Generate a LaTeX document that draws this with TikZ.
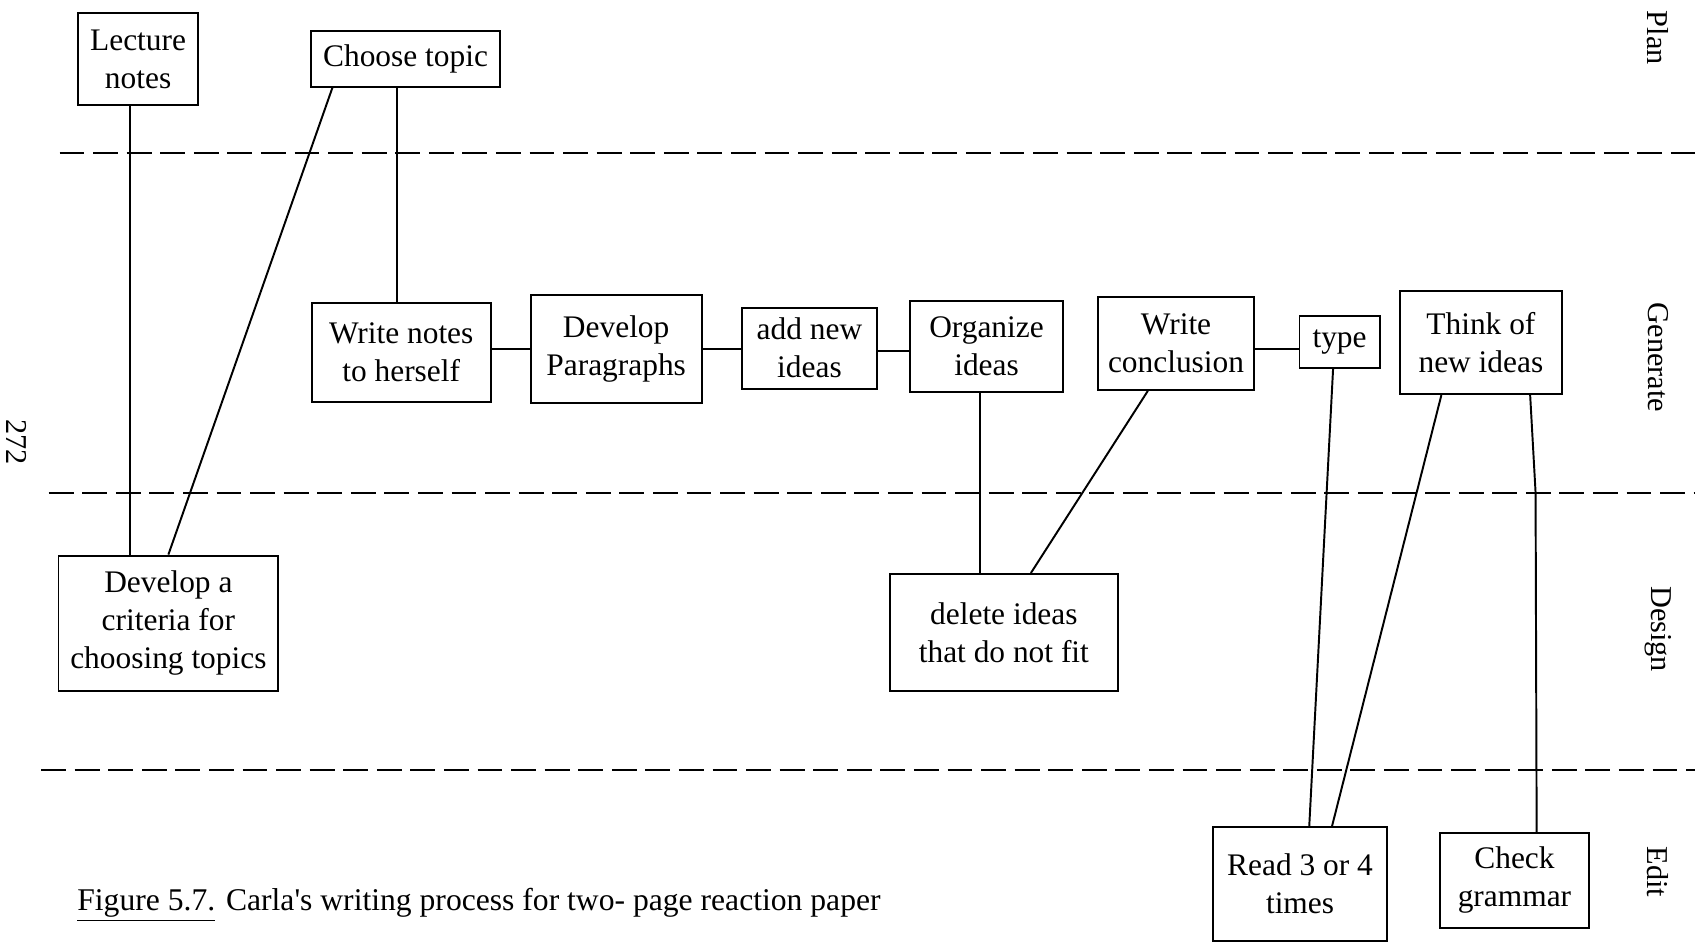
\documentclass[tikz,border=0pt]{standalone}
\usepackage{fontspec}
\setmainfont{Liberation Serif}
\usetikzlibrary{calc}
\begin{document}
\begin{tikzpicture}[x=0.5pt,y=-0.5pt,
  box/.style={draw, line width=0.9pt, rectangle, align=center, inner sep=2pt,
    font=\fontsize{14.5}{17.5}\selectfont},
  link/.style={line width=0.9pt},
  phase/.style={draw, line width=0.9pt, dash pattern=on 11.5pt off 4pt},
  lanelabel/.style={rotate=-90, font=\fontsize{14}{16}\selectfont}]
\useasboundingbox (0,0) rectangle (1568,870);

% phase boundaries
\coordinate (d1l) at (55,141);  \coordinate (d1r) at (1565,141);
\coordinate (d2l) at (45,455);  \coordinate (d2r) at (1565,455);
\coordinate (d3l) at (38,711);  \coordinate (d3r) at (1565,711);
\draw[phase] (d1l) -- (d1r);
\draw[phase] (d2l) -- (d2r);
\draw[phase] (d3l) -- (d3r);

% phase names
\node[lanelabel] (plan) at (1531,35) {Plan};
\node[lanelabel] (gen)  at (1531,330) {Generate};
\node[lanelabel] (des)  at (1531,581) {Design};
\node[lanelabel] (edit) at (1531,805) {Edit};

% page number
\node[rotate=-90, inner sep=0pt, font=\fontsize{14}{16}\selectfont] (pageno) at (15,408) {272};

% activities
\node[box, minimum width=55.5pt, minimum height=42.5pt] (lect) at (127.5,54.5) {Lecture\\notes};
\node[box, minimum width=87.5pt, minimum height=25.5pt] (choose) at (374.5,54.5) {Choose topic};
\node[box, minimum width=82.5pt, minimum height=45.5pt] (wnotes) at (370.5,325.5) {Write notes\\to herself};
\node[box, minimum width=79pt, minimum height=50pt] (devpar) at (569,322) {Develop\\Paragraphs};
\node[box, minimum width=62.5pt, minimum height=37.5pt] (addnew) at (747.5,321.5) {add new\\ideas};
\node[box, minimum width=71pt, minimum height=42pt] (organize) at (911,320) {Organize\\ideas};
\node[box, minimum width=72pt, minimum height=43pt] (wconc) at (1086,317) {Write\\conclusion};
\node[box, minimum width=37pt, minimum height=24pt] (type) at (1237,316) {type};
\node[box, minimum width=74.5pt, minimum height=47.5pt] (think) at (1367.5,316.5) {Think of\\new ideas};
\node[box, minimum width=101.5pt, minimum height=62.5pt] (crit) at (155.5,575.5) {Develop a\\criteria for\\choosing topics};
\node[box, minimum width=105pt, minimum height=54pt] (delete) at (927,584) {delete ideas\\that do not fit};
\node[box, minimum width=80.5pt, minimum height=52.5pt] (read) at (1200.5,816.5) {Read 3 or 4\\times};
\node[box, minimum width=68.5pt, minimum height=44pt] (check) at (1398.5,813) {Check\\grammar};

% caption
\node[anchor=base west, inner sep=0pt, font=\fontsize{14.6}{16}\selectfont] (caption) at (71,841)
  {\underline{Figure 5.7.}\hspace{5pt}Carla\textquotesingle s writing process for two- page reaction paper};

% connections
\draw[link] ([xshift=-3.75pt]lect.south) -- ([xshift=-17.75pt]crit.north);
\draw[link] ([xshift=-33.75pt]choose.south) -- (crit.north);
\draw[link] ([xshift=-3.75pt]choose.south) -- ([xshift=-3.75pt]choose.south |- wnotes.north);
\draw[link] (devpar.west -| wnotes.east) -- (devpar.west);
\draw[link] (devpar.east) -- (devpar.east -| addnew.west);
\draw[link] ([yshift=-1.25pt]addnew.east) -- ([yshift=-1.25pt]addnew.east -| organize.west);
\draw[link] ([xshift=-3pt]organize.south) -- ([xshift=-3pt]organize.south |- delete.north);
\draw[link] ([xshift=-13pt]wconc.south) -- ([xshift=12.5pt]delete.north);
\draw[link] ([yshift=-2.5pt]wconc.east) -- ([yshift=-2.5pt]wconc.east -| type.west);
\draw[link] ([xshift=-3pt]type.south) -- ([xshift=4.25pt]read.north);
\draw[link] ([xshift=-18.25pt]think.south) -- ([xshift=14.75pt]read.north);
\draw[link] ([xshift=22.75pt]think.south) -- ([xshift=25.25pt]think.south |- d2l) -- ([xshift=10.25pt]check.north);
\end{tikzpicture}
\end{document}
